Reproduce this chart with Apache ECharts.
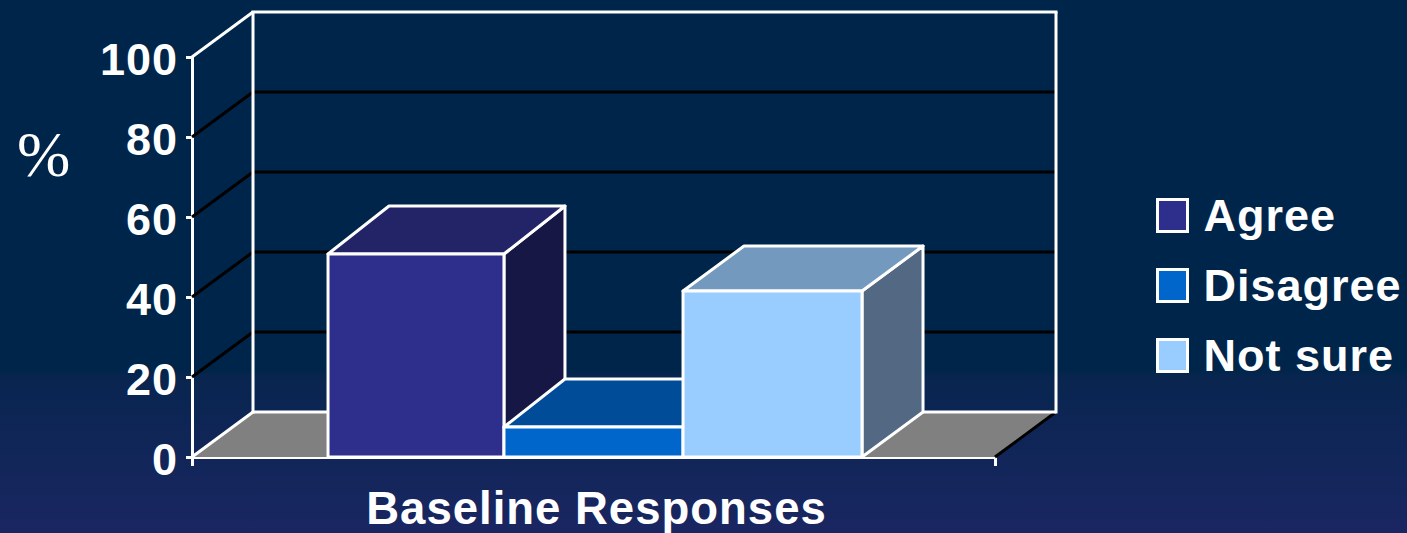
<!DOCTYPE html>
<html>
<head>
<meta charset="utf-8">
<style>
html,body{margin:0;padding:0;background:#00254a;}
#c{width:1407px;height:533px;letter-spacing:1px;}
</style>
<script src="https://cdn.jsdelivr.net/npm/echarts@6/dist/echarts.min.js"></script>
</head>
<body>
<div id="c"></div>
<script>
var categories = ['Baseline Responses'];
var yTicks = [0, 20, 40, 60, 80, 100];
var seriesNames = ['Agree', 'Disagree', 'Not sure'];
var agreeValues = [50.75];
var disagreeValues = [7.5];
var notSureValues = [41.5];
var faceColors = [
  {front:'#2e2e8c', top:'#232368', side:'#171746'},
  {front:'#0066cc', top:'#004c99', side:'#00336b'},
  {front:'#99ccff', top:'#7399bf', side:'#536882'}
];

var WALL_DX = 61, WALL_DY = 45;
var BAR_DX = 61, BAR_DY = [48, 48, 45];
var BAR_EDGES = [0.1694, 0.3885, 0.6115, 0.8344];

function wallItem(params, api) {
  var v = api.value(0);
  var g = params.coordSys;
  var y = api.coord([categories[0], v])[1];
  var xl = g.x, xr = g.x + g.width;
  var bl = xl + WALL_DX, br = xr + WALL_DX, by = y - WALL_DY;
  var children = [];
  function line(x1, y1, x2, y2, color, w) {
    children.push({type:'line', shape:{x1:x1,y1:y1,x2:x2,y2:y2}, style:{stroke:color,lineWidth:w,lineCap:'butt'}});
  }
  if (v === yTicks[0]) {
    children.push({type:'polygon', shape:{points:[[xl,y],[xr,y],[br,by],[bl,by]]}, style:{fill:'#808080'}});
    line(xr, y, br, by, '#000', 3);
    line(xl, y, bl, by, '#fff', 3);
    line(bl, by, br, by, '#fff', 3);
  } else if (v === yTicks[yTicks.length-1]) {
    var floorY = api.coord([categories[0], yTicks[0]])[1] - WALL_DY;
    line(xl, y, bl, by, '#fff', 3);
    line(bl - 1.5, by, br + 1.5, by, '#fff', 3);
    line(bl, by, bl, floorY + 1.5, '#fff', 3);
    line(br, by, br, floorY + 1.5, '#fff', 3);
  } else {
    line(xl, y, bl, by, '#000', 3);
    line(bl, by, br, by, '#000', 3);
  }
  return {type:'group', children:children};
}

function barRenderer(i) {
  return function (params, api) {
    var g = params.coordSys;
    var top = api.coord([api.value(0), api.value(1)])[1];
    var base = api.coord([api.value(0), 0])[1];
    var x0 = g.x + g.width * BAR_EDGES[i];
    var x1 = g.x + g.width * BAR_EDGES[i + 1];
    var dx = BAR_DX, dy = BAR_DY[i];
    function st(fill){ return {fill:fill, stroke:'#fff', lineWidth:3, lineJoin:'round'}; }
    return {type:'group', children:[
      {type:'polygon', shape:{points:[[x1,top],[x1+dx,top-dy],[x1+dx,base-WALL_DY],[x1,base]]}, style:st(faceColors[i].side)},
      {type:'polygon', shape:{points:[[x0,top],[x1,top],[x1+dx,top-dy],[x0+dx,top-dy]]}, style:st(faceColors[i].top)},
      {type:'polygon', shape:{points:[[x0,top],[x1,top],[x1,base],[x0,base]]}, style:st(faceColors[i].front)}
    ]};
  };
}

var valueLists = [agreeValues, disagreeValues, notSureValues];
var series = [{
  type:'custom', name:'walls', silent:true, clip:false, z:1,
  coordinateSystem:'cartesian2d',
  data: yTicks.map(function(t){ return [t]; }),
  encode:{y:0},
  renderItem: wallItem
}];
seriesNames.forEach(function(name, i){
  series.push({
    type:'custom', name:name, silent:true, clip:false, z:3 + i,
    coordinateSystem:'cartesian2d',
    itemStyle:{color:faceColors[i].front, borderColor:'#fff', borderWidth:3},
    data: categories.map(function(c, k){ return [c, valueLists[i][k]]; }),
    encode:{x:0, y:1},
    renderItem: barRenderer(i)
  });
});

var FONT = '"Liberation Sans", Arial, sans-serif';
var chart = echarts.init(document.getElementById('c'), null, {renderer:'svg', width:1407, height:533});
chart.setOption({
  animation:false,
  backgroundColor:{type:'linear', x:0, y:0, x2:0, y2:1, colorStops:[
    {offset:0, color:'#00254a'},
    {offset:0.695, color:'#00254a'},
    {offset:0.705, color:'#08254f'},
    {offset:1, color:'#1a2662'}
  ]},
  title:{
    text:'%', left:12, top:117,
    textStyle:{color:'#fff', fontFamily:'"Liberation Serif", serif', fontWeight:'normal', fontSize:64}
  },
  legend:{
    orient:'vertical', left:1151, top:188,
    data:seriesNames, icon:'rect',
    itemWidth:30, itemHeight:32, itemGap:25,
    selectedMode:false,
    itemStyle:{borderColor:'#fff', borderWidth:3},
    textStyle:{color:'#fff', fontFamily:FONT, fontWeight:'bold', fontSize:45, padding:[0,0,0,11]}
  },
  grid:{left:192, top:57, width:803, height:400, containLabel:false},
  xAxis:{
    type:'category', data:categories, boundaryGap:true,
    axisLine:{show:true, lineStyle:{color:'#fff', width:3}},
    axisTick:{show:true, length:9, alignWithLabel:false, lineStyle:{color:'#fff', width:3}},
    axisLabel:{color:'#fff', fontFamily:FONT, fontWeight:'bold', fontSize:45.5, margin:28, padding:[0,0,0,6]},
    splitLine:{show:false}
  },
  yAxis:{
    type:'value', min:0, max:100, interval:20,
    axisLine:{show:true, lineStyle:{color:'#fff', width:3}},
    axisTick:{show:true, length:6, lineStyle:{color:'#fff', width:3}},
    axisLabel:{
      margin:14,
      formatter:'{v|{value}}',
      rich:{v:{color:'#fff', fontFamily:FONT, fontWeight:'bold', fontSize:45, padding:[5,0,0,0]}}
    },
    splitLine:{show:false}
  },
  series:series
});
</script>
</body>
</html>
